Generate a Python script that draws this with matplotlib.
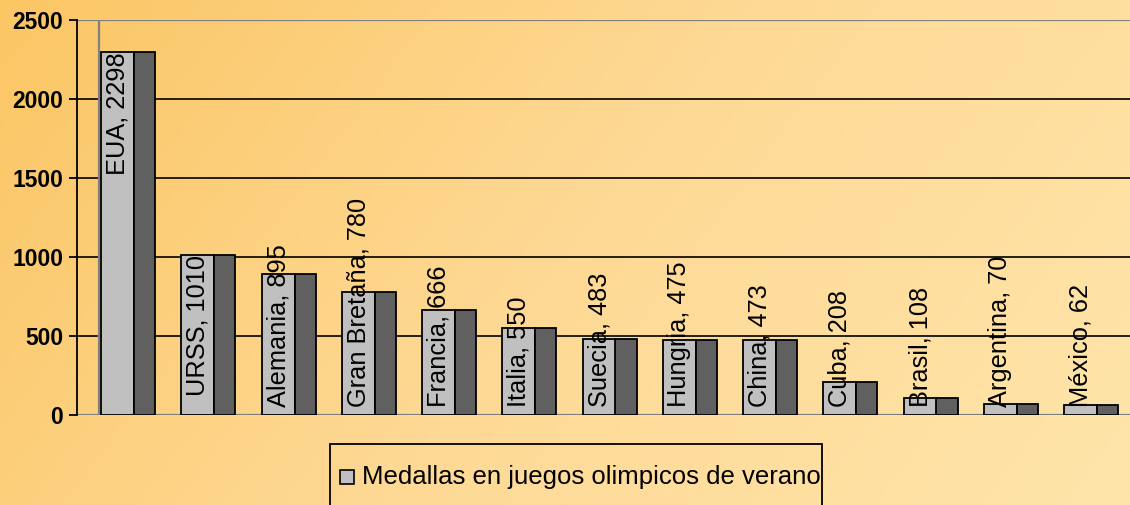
import numpy as np
import matplotlib
matplotlib.use('Agg')
import matplotlib.pyplot as plt
from matplotlib.patches import Rectangle
from matplotlib.colors import LinearSegmentedColormap

plt.rcParams['font.family'] = ['Liberation Sans', 'DejaVu Sans']

# data
paises = ['EUA', 'URSS', 'Alemania', 'Gran Bretaña', 'Francia', 'Italia', 'Suecia',
          'Hungria', 'China', 'Cuba', 'Brasil', 'Argentina', 'México']
medallas = [2298, 1010, 895, 780, 666, 550, 483, 475, 473, 208, 108, 70, 62]
yticks = [0, 500, 1000, 1500, 2000, 2500]
serie = 'Medallas en juegos olimpicos de verano'

W, H = 1130, 505
fig = plt.figure(figsize=(W / 100, H / 100), dpi=100)

# orange gradient background
bg = fig.add_axes([0, 0, 1, 1], zorder=-10)
gx, gy = np.meshgrid(np.linspace(0, 1, 300), np.linspace(0, 1, 150))
grad = 0.75 * gx + 0.25 * gy
cmap = LinearSegmentedColormap.from_list('bg', ['#FBC664', '#FED995', '#FFE5AA'])
bg.imshow(grad, cmap=cmap, aspect='auto', extent=[0, 1, 1, 0])
bg.axis('off')

ax = fig.add_axes([77 / W, (H - 415) / H, (W - 77) / W, (415 - 20) / H])
ax.set_facecolor('none')
x = np.arange(len(paises))
ax.set_xlim(-0.636, 12.486)
ax.set_ylim(0, 2500)

# grid and walls
for t in yticks[1:-1]:
    ax.axhline(t, color='black', lw=1.2, zorder=1)
ax.axhline(2500, color='#808080', lw=1.6, zorder=1)
ax.axhline(0, color='#808080', lw=1.6, zorder=1)
ax.axvline(-0.361, color='#808080', lw=1.6, zorder=1)

# pseudo 3D bars: front face + dark side face
ax.bar(x - 0.1305, medallas, width=0.411, color='#C0C0C0', edgecolor='black', lw=1.3, zorder=3)
ax.bar(x + 0.2055, medallas, width=0.262, color='#606060', edgecolor='black', lw=1.3, zorder=3)

for s in ['top', 'right', 'bottom']:
    ax.spines[s].set_visible(False)
ax.spines['left'].set_linewidth(1.3)
ax.set_xticks([])
ax.set_yticks(yticks)
ax.tick_params(axis='y', length=6, width=1.3, pad=4, labelsize=16.5)
for lb in ax.get_yticklabels():
    lb.set_fontweight('bold')

# data labels
fig.canvas.draw()
r = fig.canvas.get_renderer()
inv = ax.transData.inverted()
for xi, v, p in zip(x, medallas, paises):
    t = ax.text(xi - 0.13, v, f'{p}, {v}', rotation=90, ha='center', va='top',
                fontsize=18.3, zorder=5)
    bb = t.get_window_extent(r)
    y0 = inv.transform((0, bb.y0))[1]
    if y0 < 0:
        t.set_y(50)
        t.set_va('bottom')

# legend box
fig.patches.append(Rectangle((330 / W, -0.1), (822 - 330) / W, 0.1 + (H - 444) / H,
                             transform=fig.transFigure, facecolor='none',
                             edgecolor='black', lw=1.3))
fig.patches.append(Rectangle((340 / W, (H - 484) / H), 14 / W, 14 / H,
                             transform=fig.transFigure, facecolor='#C0C0C0',
                             edgecolor='black', lw=1.2))
fig.text(362 / W, (H - 477) / H, serie, fontsize=18.5, va='center', ha='left')

fig.savefig('out.png', dpi=100)
